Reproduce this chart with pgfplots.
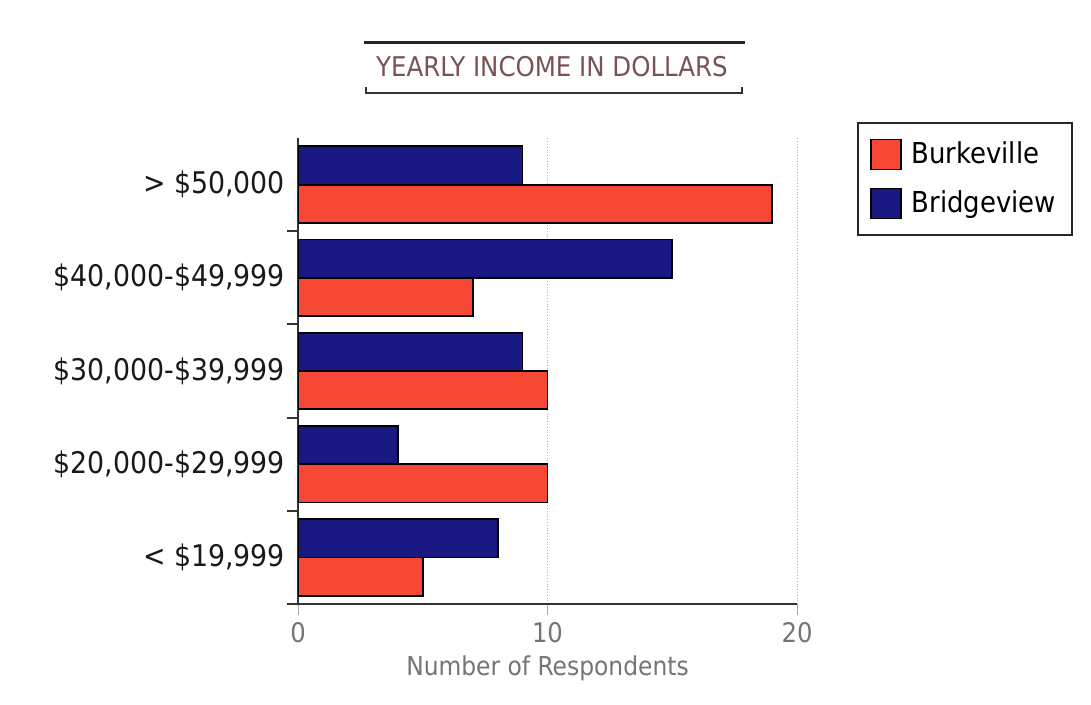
\documentclass[border=0pt]{standalone}
\usepackage{fontspec}
\setmainfont{DejaVu Sans Condensed}
\usepackage{pgfplots}
\pgfplotsset{compat=1.18}
\definecolor{burk}{RGB}{247,72,54}
\definecolor{bridge}{RGB}{26,24,130}
\definecolor{titlec}{RGB}{122,82,84}
\definecolor{axgray}{RGB}{120,115,118}
\begin{document}
\begin{tikzpicture}
\path[use as bounding box] (0,0) rectangle (545.5pt,-352.5pt);
\begin{scope}[x=0.5pt,y=-0.5pt]
\draw[line width=1.5pt, black!85] (364,43) -- (745,43);
\draw[line width=1pt, black!80] (366,87) -- (366,93) -- (742,93) -- (742,87);
\node[anchor=base, text=titlec, font=\fontsize{13.6}{16}\selectfont, inner sep=0pt] at (552,77) {YEARLY INCOME IN DOLLARS};
\end{scope}
\begin{axis}[
  at={(149pt,-302pt)}, anchor=south west,
  scale only axis, width=249.5pt, height=233pt,
  xbar, bar width=0.41,
  xmin=0, xmax=20, ymin=-0.5, ymax=4.5,
  axis x line*=bottom, axis y line*=left,
  axis line style={-, line width=1pt, draw=black!80},
  xtick={0,10,20},
  xmajorgrids, grid style={densely dotted, gray!60, line width=0.5pt},
  ytick={-0.5,0.5,1.5,2.5,3.5}, yticklabels={},
  extra y ticks={0,1,2,3,4},
  extra y tick labels={{< \$19,999},{\$20,000-\$29,999},{\$30,000-\$39,999},{\$40,000-\$49,999},{> \$50,000}},
  extra y tick style={major tick length=0pt, tick style={draw=none}, yticklabel style={xshift=-3pt}},
  tick align=outside, major tick length=5.5pt,
  y tick style={line width=1pt, black!80},
  x tick style={line width=0.5pt, gray!70},
  /pgf/number format/assume math mode=true,
  xticklabel style={text=axgray, font=\fontsize{13.5}{16}\selectfont},
  yticklabel style={text=black!90, font=\fontsize{14.9}{17}\selectfont},
  xlabel={Number of Respondents},
  xlabel style={text=axgray, font=\fontsize{13}{16}\selectfont},
  legend style={at={(axis description cs:1.1202,1.0343)}, anchor=north west, draw=black!85, line width=1pt, fill=white, font=\fontsize{14.4}{16}\selectfont, inner xsep=6pt, inner ysep=7.5pt, row sep=8pt, /tikz/every odd column/.append style={column sep=3pt}},
  legend cell align=left,
  legend image code/.code={\draw[#1, draw=black, line width=0.8pt] (0pt,-7.5pt) rectangle (15pt,7.5pt);},
]
\addplot[fill=burk, draw=black, line width=0.9pt, bar shift=-0.205] coordinates {(5,0) (10,1) (10,2) (7,3) (19,4)};
\addplot[fill=bridge, draw=black, line width=0.9pt, bar shift=0.205] coordinates {(8,0) (4,1) (9,2) (15,3) (9,4)};
\legend{Burkeville, Bridgeview}
\end{axis}
\end{tikzpicture}
\end{document}
